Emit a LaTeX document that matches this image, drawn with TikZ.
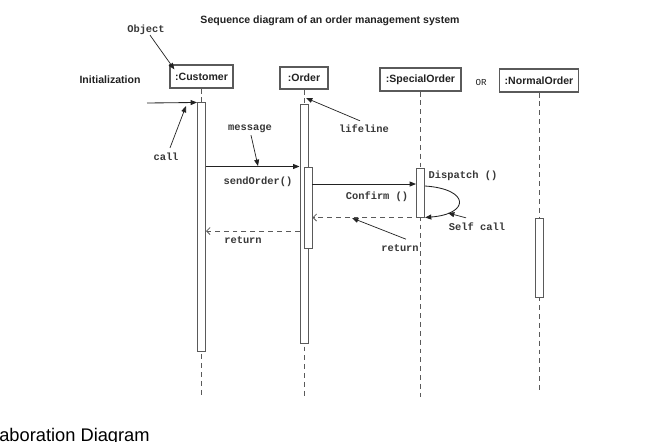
\documentclass[tikz,border=0pt]{standalone}
\usepackage{fontspec}
\setmainfont{Liberation Sans}
\setmonofont{Liberation Mono}
\usetikzlibrary{arrows.meta,calc}

\definecolor{linegray}{HTML}{5A5A5A}
\definecolor{inkgray}{HTML}{222222}

\tikzset{
  objbox/.style={draw=linegray, fill=white, line width=0.9pt, minimum height=0.575cm,
    inner sep=0pt, font=\fontsize{7.5}{9}\selectfont\bfseries, text=inkgray},
  actbar/.style={draw=linegray, fill=white, line width=0.7pt, minimum width=0.2cm, inner sep=0pt},
  lifeline/.style={draw=linegray, line width=0.7pt, dash pattern=on 3.5pt off 2.8pt},
  msg/.style={draw=inkgray, line width=0.6pt, -{Triangle[length=4.5pt,width=3.5pt]}},
  reply/.style={draw=linegray, line width=0.6pt, dash pattern=on 3.5pt off 2.8pt,
    -{Straight Barb[length=2.5pt,width=5pt]}},
  pointer/.style={draw=inkgray, line width=0.5pt, -{Triangle[length=4.5pt,width=3.5pt]}},
  codetext/.style={font=\fontsize{7.4}{9}\selectfont\ttfamily\bfseries, text=inkgray!90, inner sep=0pt},
  headtext/.style={font=\fontsize{7.5}{9}\selectfont\bfseries, text=inkgray, inner sep=0pt},
}

\begin{document}
\begin{tikzpicture}[x=0.025cm, y=-0.025cm]
  \fill[white] (0,0) rectangle (649,441);
  \useasboundingbox (0,0) rectangle (649,441);

  % title and side labels
  \node[headtext] (title) at (330,21) {Sequence diagram of an order management system};
  \node[headtext] (init) at (110,80) {Initialization};
  \node[font=\fontsize{6.5}{7}\selectfont\ttfamily, text=inkgray, inner sep=0pt] (orlbl) at (481,82) {OR};

  % objects
  \node[objbox, minimum width=1.575cm] (cust) at (201.5,76.5) {:Customer};
  \node[objbox, minimum width=1.2cm, minimum height=0.55cm] (ord) at (304,78) {:Order};
  \node[objbox, minimum width=2.025cm] (spec) at (420.5,79.5) {:SpecialOrder};
  \node[objbox, minimum width=1.975cm] (norm) at (539,80.5) {:NormalOrder};

  % lifelines
  \coordinate (custend) at (201.5,396);
  \coordinate (ordend) at (304,397);
  \coordinate (specend) at (420.5,397);
  \coordinate (normend) at (539,391);
  \draw[lifeline] (cust.south) -- (custend);
  \draw[lifeline] (ord.south) -- (ordend);
  \draw[lifeline] (spec.south) -- (specend);
  \draw[lifeline] (norm.south) -- (normend);

  % activation bars
  \node[actbar, minimum height=6.2cm] (custbar) at (201.5,227) {};
  \node[actbar, minimum height=5.95cm] (ordbar) at (304,224) {};
  \node[actbar, minimum height=2.025cm] (ordsub) at (308,207.5) {};
  \node[actbar, minimum height=1.225cm] (specbar) at (420.5,192.5) {};
  \node[actbar, minimum height=1.975cm] (normbar) at (539,257.5) {};

  % messages
  \coordinate (entry) at (147,103);
  \draw[msg] (entry) -- (custbar.north west);
  \draw[msg] (custbar.east |- ordsub.north) -- (ordbar.west |- ordsub.north);
  \coordinate (confirmy) at (0,184);
  \draw[msg] (ordsub.east |- confirmy) -- (specbar.west |- confirmy);
  \coordinate (dispy) at (0,186);
  \draw[msg] (specbar.east |- dispy) .. controls (470,189) and (470,214) .. (specbar.south east);
  \draw[reply] (specbar.south) -- (ordsub.east |- specbar.south);
  \coordinate (backy) at (0,231);
  \draw[reply] (ordbar.west |- backy) -- (custbar.east |- backy);

  % message labels
  \node[codetext] (objlbl) at (146,30) {Object};
  \node[codetext] (calllbl) at (166,157) {call};
  \node[codetext] (msglbl) at (250,129) {message};
  \node[codetext] (sendlbl) at (258,182) {sendOrder()};
  \node[codetext] (lifelbl) at (364,129) {lifeline};
  \node[codetext] (confirmlbl) at (377,197) {Confirm ()};
  \node[codetext] (displbl) at (463,176) {Dispatch ()};
  \node[codetext] (selflbl) at (477,227) {Self call};
  \node[codetext] (ret1lbl) at (243,240) {return};
  \node[codetext] (ret2lbl) at (400,248) {return};

  % pointers to the parts
  \coordinate (callpt) at (186,106);
  \coordinate (msgpt) at (258,166);
  \coordinate (lifept) at (306,98);
  \coordinate (ret2pt) at (352,218);
  \coordinate (selfpt) at (448,213);
  \draw[pointer] ($(objlbl.south)+(4,0)$) -- ($(cust.north west)+(5,5)$);
  \draw[pointer] ($(calllbl.north)+(4,-5)$) -- (callpt);
  \draw[pointer] ($(msglbl.south)+(1,2)$) -- (msgpt);
  \draw[pointer] ($(lifelbl.north)+(-4,-4)$) -- (lifept);
  \draw[pointer] ($(ret2lbl.north)+(6,-5)$) -- (ret2pt);
  \draw[pointer] ($(selflbl.north)+(-11,-5)$) -- (selfpt);

  % cut heading of the next part of the page
  \node[anchor=base west, font=\fontsize{13}{15}\selectfont, inner sep=0pt, text=black] (collab) at (-1,441) {aboration Diagram};
\end{tikzpicture}
\end{document}
